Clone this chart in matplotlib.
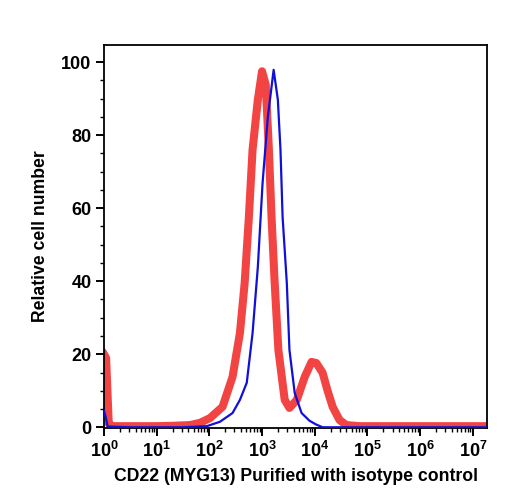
import numpy as np
import matplotlib
matplotlib.use("Agg")
import matplotlib.pyplot as plt
from matplotlib.ticker import FixedLocator, LogLocator, MultipleLocator, NullFormatter

red_logx = [0.0, 0.04, 0.09, 0.15, 0.6, 1.0, 1.3, 1.63, 1.82, 2.01, 2.25, 2.44, 2.58,
            2.67, 2.75, 2.82, 2.92, 3.0, 3.07, 3.13, 3.18, 3.24, 3.31, 3.43, 3.52,
            3.66, 3.81, 3.94, 4.03, 4.15, 4.24, 4.34, 4.47, 4.60, 4.85, 6.0, 7.3]
red_counts = [20, 19, 1.0, 0.3, 0.3, 0.3, 0.4, 0.6, 1.2, 2.5, 5.6, 13.8, 25.8,
              39.5, 57.6, 76, 89.7, 97.5, 93.8, 76, 57.6, 39.5, 21.2, 7.5, 5.3,
              7.5, 13.8, 17.9, 17.6, 14.9, 10.2, 5.6, 2.0, 0.6, 0.3, 0.3, 0.3]

blue_logx = [0.0, 0.03, 0.07, 0.5, 1.5, 1.95, 2.2, 2.44, 2.58, 2.71, 2.82, 2.92,
             3.01, 3.11, 3.22, 3.30, 3.35, 3.39, 3.47, 3.52, 3.62, 3.75, 3.90,
             4.02, 4.15, 5.0, 7.3]
blue_counts = [4.5, 3.0, 0.2, 0.0, 0.0, 0.3, 1.5, 3.9, 7.5, 12.2, 25.8, 43.9,
               66.9, 85, 97.9, 89.7, 76, 57.6, 39.5, 21.2, 9.4, 3.9, 1.8,
               0.8, 0.0, 0.0, 0.0]

x_decades = [0, 1, 2, 3, 4, 5, 6, 7]
y_ticks = [0, 20, 40, 60, 80, 100]

plt.rcParams['font.family'] = ['Liberation Sans', 'DejaVu Sans']
plt.rcParams['font.weight'] = 'bold'
plt.rcParams['mathtext.fontset'] = 'custom'
plt.rcParams['mathtext.rm'] = 'Liberation Sans:bold'
plt.rcParams['mathtext.bf'] = 'Liberation Sans:bold'

fig = plt.figure(figsize=(5.08, 5.0), dpi=100)
ax = fig.add_axes([0.2047, 0.144, 0.754, 0.766])

ax.plot(10 ** np.array(red_logx), red_counts, color='#f22f2f', lw=5.8,
        alpha=0.9, solid_joinstyle='round', zorder=2)
ax.plot(10 ** np.array(blue_logx), blue_counts, color='#1010d8', lw=1.6, zorder=3)

ax.set_xscale('log')
ax.set_xlim(1, 10 ** 7.27)
ax.set_ylim(-0.2, 104.7)

ax.xaxis.set_major_locator(FixedLocator([10 ** d for d in x_decades]))
ax.set_xticklabels([r'$\mathbf{10^{%d}}$' % d for d in x_decades])
ax.xaxis.set_minor_locator(LogLocator(base=10, subs=np.arange(2, 10), numticks=20))
ax.xaxis.set_minor_formatter(NullFormatter())

ax.set_yticks(y_ticks)
ax.yaxis.set_minor_locator(MultipleLocator(5))

ax.tick_params(axis='both', which='major', direction='out', width=1.4, labelsize=13)
ax.tick_params(axis='x', which='major', length=6, pad=3)
ax.tick_params(axis='y', which='major', length=6, pad=3)
ax.tick_params(axis='both', which='minor', direction='out', width=1.0, length=3)

for s in ax.spines.values():
    s.set_linewidth(1.3)

ax.set_ylabel('Relative cell number', fontsize=12.7, fontweight='bold', labelpad=9)
ax.set_xlabel('CD22 (MYG13) Purified with isotype control', fontsize=12.7,
              fontweight='bold', labelpad=5)

plt.savefig('out.png', dpi=100)
